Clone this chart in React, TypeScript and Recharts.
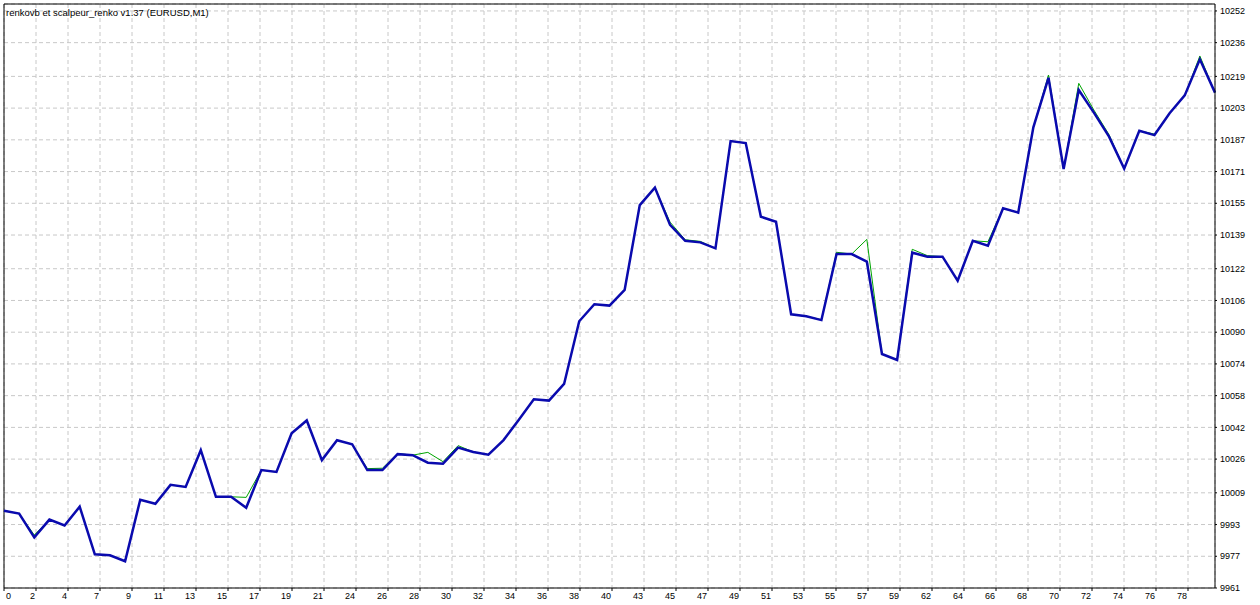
import React from "react";
import { CartesianGrid, Line, LineChart, ReferenceLine, XAxis, YAxis } from "recharts";

// renko bars, one value per bar (0..80)
const blueValues = [
  10000, 9998.5, 9986.5, 9995.5, 9992.5, 10002, 9978, 9977.5, 9974.5, 10005.5,
  10003.5, 10013, 10012, 10030.5, 10007, 10007, 10001.5, 10020.5, 10019.5, 10039,
  10045.5, 10025.5, 10035.5, 10033.5, 10020.5, 10020.5, 10028.5, 10028, 10024.2, 10023.7,
  10031.8, 10029.6, 10028.2, 10035.6, 10045.7, 10056.2, 10055.5, 10063.9, 10095.5, 10104.1,
  10103.4, 10111.3, 10154.1, 10162.9, 10144.1, 10136.1, 10135.3, 10132.3, 10186.4, 10185.4,
  10148.2, 10145.7, 10099, 10098, 10096.1, 10129.4, 10129.4, 10125.6, 10079, 10076,
  10130.1, 10128.1, 10128.1, 10116, 10136.1, 10133.6, 10152.5, 10150.3, 10193.3, 10218.3,
  10172.3, 10212.1, 10200.7, 10188.6, 10172.5, 10191.6, 10189.4, 10200.4, 10209.4, 10227.6,
  10210.8,
];

const greenValues = [
  10000, 9998.5, 9987.7, 9995.5, 9992.5, 10002, 9978, 9977.5, 9974.5, 10005.5,
  10003.5, 10013, 10012, 10030.5, 10007, 10007, 10006.7, 10020.5, 10019.5, 10039,
  10045.5, 10025.5, 10035.5, 10033.5, 10021.2, 10021.4, 10028.8, 10028, 10029.4, 10024.7,
  10032.8, 10029.6, 10028.2, 10035.6, 10045.7, 10056.2, 10055.5, 10063.9, 10095.5, 10104.1,
  10103.4, 10111.3, 10154.1, 10162.9, 10145.5, 10136.6, 10135.8, 10132.3, 10186.4, 10185.4,
  10148.2, 10145.7, 10099, 10098, 10096.3, 10130.3, 10129.4, 10136.8, 10079, 10076,
  10131.8, 10128.6, 10128.1, 10116, 10136.1, 10135.6, 10152.5, 10150.3, 10193.3, 10219.7,
  10172.3, 10215.5, 10202, 10189.6, 10172.5, 10191.6, 10189.9, 10200.4, 10209.4, 10229.3,
  10210.8,
];

const xTickLabels = [
  "0", "2", "4", "7", "9", "11", "13", "15", "17", "19", "21", "24", "26", "28", "30", "32", "34", "36", "38",
  "40", "43", "45", "47", "49", "51", "53", "55", "57", "59", "62", "64", "66", "68", "70", "72", "74", "76", "78",
];

const yTicks = [
  9961, 9977, 9993, 10009, 10026, 10042, 10058, 10074, 10090, 10106,
  10122, 10139, 10155, 10171, 10187, 10203, 10219, 10236, 10252,
];

const title = "renkovb et scalpeur_renko v1.37 (EURUSD,M1)";

const W = 1260;
const H = 605;
const PLOT_LEFT = 4;
const AXIS_W = 45;
const PLOT_W = W - PLOT_LEFT - AXIS_W;
const GRID_STEP_PX = 32;
const X_MAX = blueValues.length - 1;
const Y_MIN = 9961;
const Y_MAX = 10255.5;

const font = { fontFamily: "'Liberation Sans', Arial, sans-serif", fontSize: 9, fill: "#000" };

const data = blueValues.map((v, i) => ({ i, blue: v, green: greenValues[i] }));

// MT4 puts the vertical grid every 32px, not on whole bars
const xTicks = xTickLabels.map((_, k) => (k * GRID_STEP_PX * X_MAX) / PLOT_W);

function XTick({ x, y, index }: any) {
  const first = index === 0;
  return (
    <text x={first ? x + 2 : x - 1} y={y + 8} textAnchor={first ? "start" : "end"} {...font}>
      {xTickLabels[index]}
    </text>
  );
}

export default function App() {
  return (
    <div style={{ position: "absolute", left: 0, top: 0, width: W, height: H, background: "#fff" }}>
      <LineChart width={W} height={H} data={data} margin={{ top: 4, right: 0, bottom: 0, left: PLOT_LEFT }}>
        <CartesianGrid stroke="#c8c8c8" strokeDasharray="4 3" />
        <XAxis
          dataKey="i"
          type="number"
          domain={[0, X_MAX]}
          ticks={xTicks}
          interval={0}
          height={17}
          tickSize={3}
          tickMargin={0}
          stroke="#000"
          tick={<XTick />}
        />
        <YAxis
          orientation="right"
          type="number"
          domain={[Y_MIN, Y_MAX]}
          ticks={yTicks}
          interval={0}
          allowDataOverflow
          width={AXIS_W}
          tickSize={2}
          tickMargin={3}
          stroke="#000"
          tick={font}
        />
        <ReferenceLine y={Y_MAX} stroke="#000" />
        <ReferenceLine x={0} stroke="#000" />
        <Line dataKey="green" stroke="#00a400" strokeWidth={1} dot={false} isAnimationActive={false} />
        <Line dataKey="blue" stroke="#0a0aae" strokeWidth={2.5} dot={false} isAnimationActive={false} />
      </LineChart>
      <svg width={300} height={20} style={{ position: "absolute", left: 0, top: 0 }}>
        <text x={6} y={16} {...font} fontSize={9.5}>
          {title}
        </text>
      </svg>
    </div>
  );
}
